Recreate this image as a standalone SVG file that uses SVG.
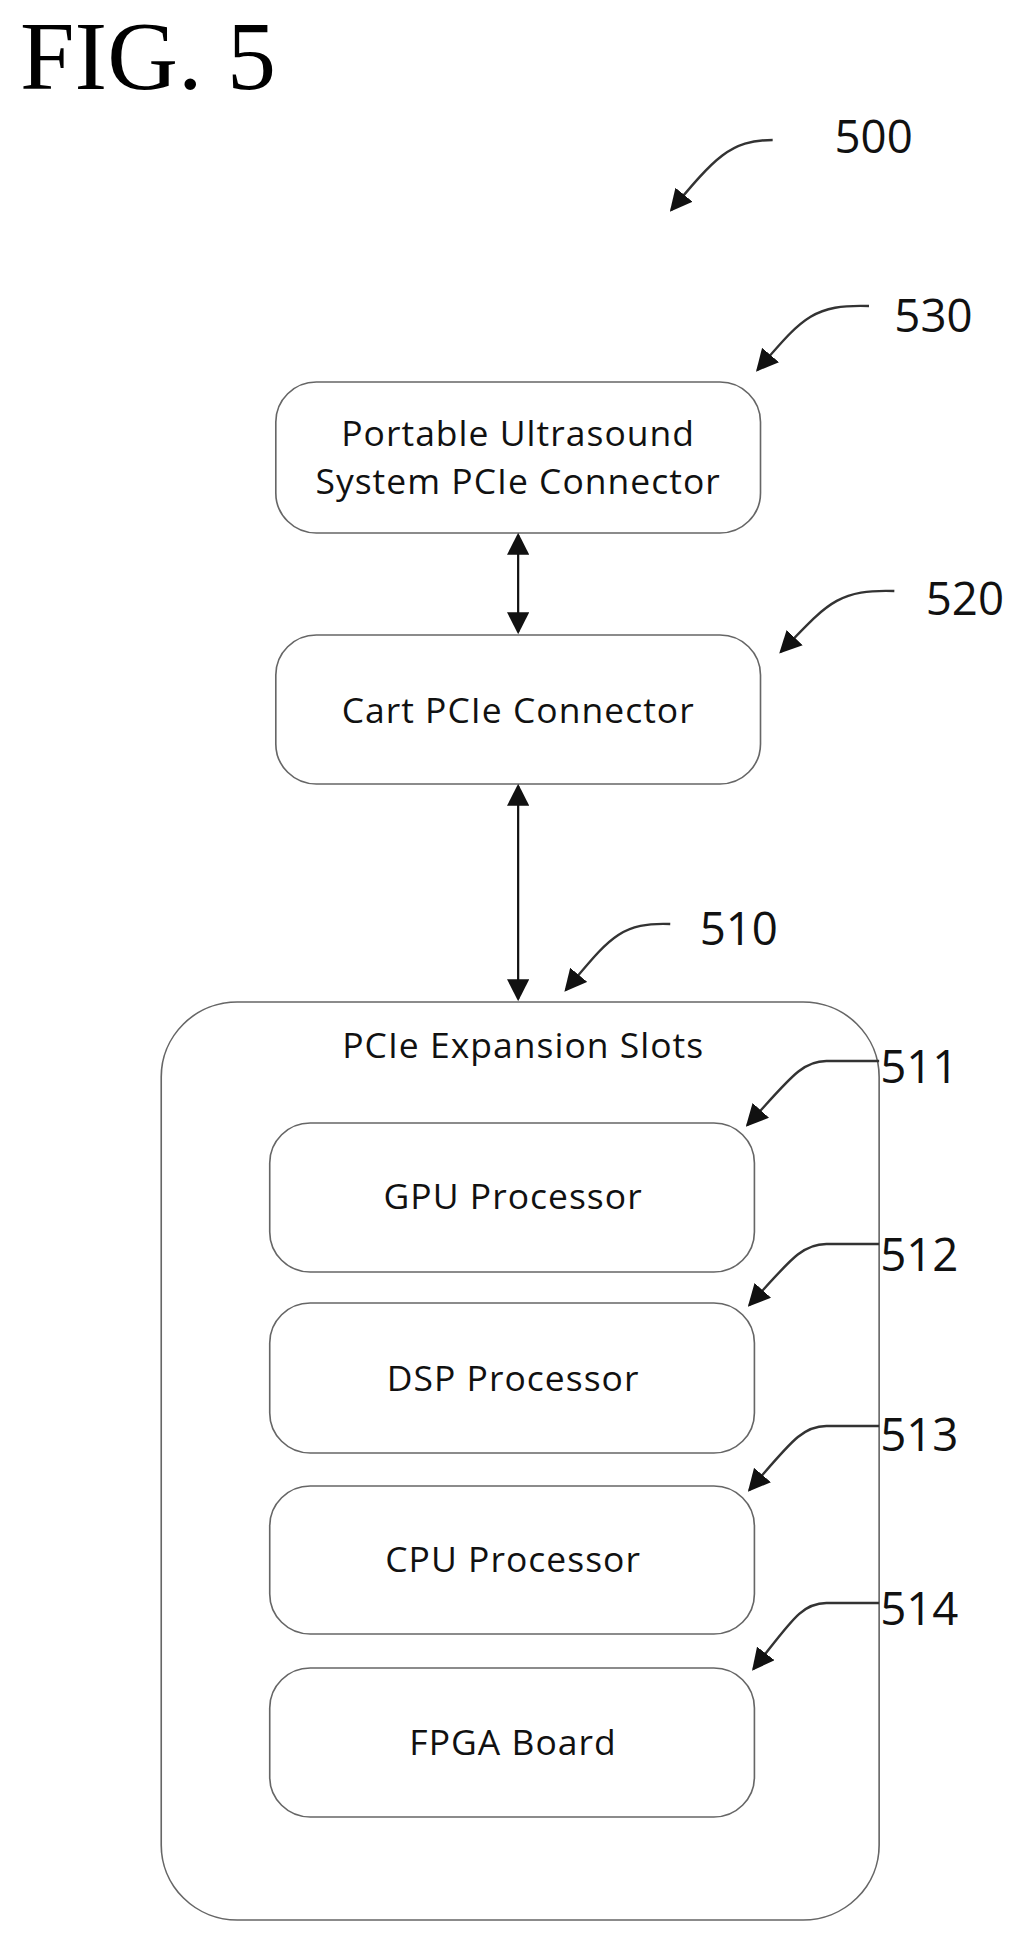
<svg xmlns="http://www.w3.org/2000/svg" width="1017" height="1945" viewBox="0 0 1017 1945">
<style>
.box{fill:#fff;stroke:#666;stroke-width:1.6}
.t{font-family:"Open Sans","DejaVu Sans",sans-serif;font-size:35px;letter-spacing:1px;fill:#111;text-anchor:middle}
.n{font-family:"Open Sans","DejaVu Sans",sans-serif;font-size:45px;fill:#111}
.c{fill:none;stroke:#111;stroke-width:2.2}
.l{fill:none;stroke:#333;stroke-width:2.4}
</style>
<defs>
<marker id="ah2" viewBox="0 0 10 10" refX="9" refY="5" markerWidth="22" markerHeight="22" markerUnits="userSpaceOnUse" orient="auto-start-reverse"><path d="M0,0L10,5L0,10z" fill="#111"/></marker>
</defs>
<rect width="1017" height="1945" fill="#fff"/>
<text x="20" y="89" font-family="Liberation Serif,serif" font-size="98">FIG. 5</text>
<g transform="scale(1.014,1)">
<g id="n500"><text class="n" x="823" y="153">500</text></g>
<g id="n530"><rect class="box" x="272" y="382" width="478" height="151" rx="40"/><text class="t" x="511" y="446">Portable Ultrasound</text><text class="t" x="511" y="494">System PCIe Connector</text><text class="n" x="882" y="332">530</text></g>
<g id="n520"><rect class="box" x="272" y="635" width="478" height="149" rx="40"/><text class="t" x="511" y="723">Cart PCIe Connector</text><text class="n" x="913" y="615">520</text></g>
<g id="n510"><rect class="box" x="159" y="1002" width="708" height="918" rx="75"/><text class="t" x="516" y="1058">PCIe Expansion Slots</text><text class="n" x="690" y="945">510</text></g>
<g id="n511"><rect class="box" x="266" y="1123" width="478" height="149" rx="40"/><text class="t" x="506" y="1209">GPU Processor</text><text class="n" x="868" y="1083">511</text></g>
<g id="n512"><rect class="box" x="266" y="1303" width="478" height="150" rx="40"/><text class="t" x="506" y="1391">DSP Processor</text><text class="n" x="868" y="1271">512</text></g>
<g id="n513"><rect class="box" x="266" y="1486" width="478" height="148" rx="40"/><text class="t" x="506" y="1572">CPU Processor</text><text class="n" x="868" y="1451">513</text></g>
<g id="n514"><rect class="box" x="266" y="1668" width="478" height="149" rx="40"/><text class="t" x="506" y="1755">FPGA Board</text><text class="n" x="868" y="1625">514</text></g>
<g id="connectors">
<line class="c" x1="511" y1="535" x2="511" y2="632" marker-start="url(#ah2)" marker-end="url(#ah2)"/>
<line class="c" x1="511" y1="786" x2="511" y2="999" marker-start="url(#ah2)" marker-end="url(#ah2)"/>
<path class="l" d="M762,140 C720,140 705,158 662,210" marker-end="url(#ah2)"/>
<path class="l" d="M857,306 C800,304 790,320 747,370" marker-end="url(#ah2)"/>
<path class="l" d="M882,591 C825,589 815,605 770,652" marker-end="url(#ah2)"/>
<path class="l" d="M661,924 C610,922 600,940 558,990" marker-end="url(#ah2)"/>
<path class="l" d="M867,1061 H815 C790,1061 778,1080 737,1125" marker-end="url(#ah2)"/>
<path class="l" d="M867,1244 H815 C790,1244 778,1262 739,1305" marker-end="url(#ah2)"/>
<path class="l" d="M867,1426 H815 C790,1426 778,1445 739,1490" marker-end="url(#ah2)"/>
<path class="l" d="M867,1603 H815 C790,1603 780,1622 743,1669" marker-end="url(#ah2)"/>
</g>
</g>
</svg>
